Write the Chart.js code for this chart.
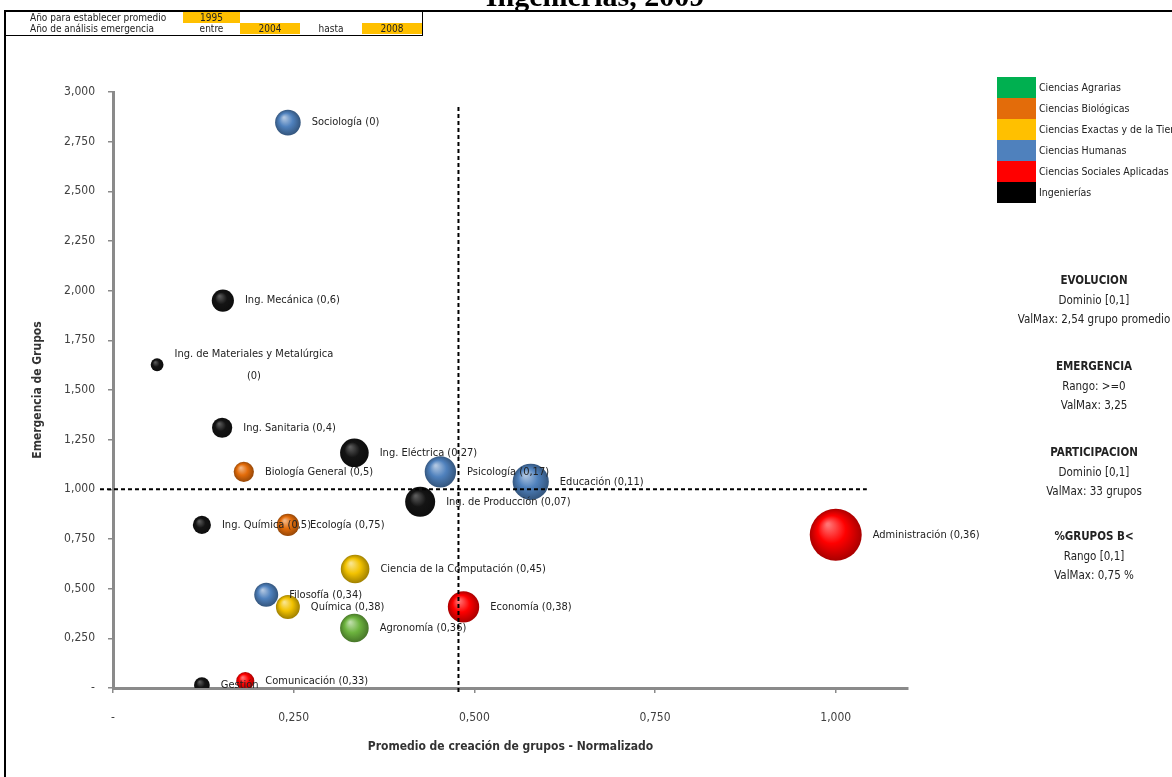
<!DOCTYPE html>
<html lang="es">
<head>
<meta charset="utf-8">
<title>Emergencia de grupos - Ingenierías, 2009</title>
<script src="https://cdn.jsdelivr.net/npm/chart.js@4.4.1/dist/chart.umd.min.js"></script>
<style>
  body { margin: 0; background: #fff; }
  #wrap { position: relative; width: 1172px; height: 777px; overflow: hidden; background: #fff;
          font-family: "Liberation Sans Narrow", "DejaVu Sans Condensed", "Liberation Sans", sans-serif; color: #222; }
  #chart { position: absolute; left: 0; top: 0; }
  #frame { position: absolute; left: 4px; top: 10px; width: 1300px; height: 900px;
           border-left: 2px solid #000; border-top: 2px solid #000; }
  #title { position: absolute; left: 0; top: -19px; width: 1190px; text-align: center; white-space: nowrap;
           font: bold 30px "Liberation Serif", "DejaVu Serif", serif; line-height: 30px; color: #000; }
  .cell { position: absolute; height: 11px; line-height: 11px; font-size: 10px; white-space: nowrap; }
  .gold { background: #ffc000; text-align: center; }
  .mid { text-align: center; }
  .rule { position: absolute; background: #000; }
  #legend { position: absolute; left: 997px; top: 77px; }
  #legend div { height: 21px; line-height: 21px; font-size: 10.5px; white-space: nowrap; }
  #legend span { display: inline-block; width: 39px; height: 21px; vertical-align: top; margin-right: 3px; }
  .info { position: absolute; left: 1013px; width: 162px; text-align: center; font-size: 11.5px; line-height: 19.5px; }
</style>
</head>
<body>
<div id="wrap">
  <canvas id="chart" width="1172" height="777"></canvas>
  <div id="title">Ingenierías, 2009</div>
  <div id="frame"></div>

  <!-- little parameter table, top left -->
  <div class="cell" style="left:30px; top:12px;">Año para establecer promedio</div>
  <div class="cell gold" style="left:183px; top:12px; width:57px;">1995</div>
  <div class="cell" style="left:30px; top:23px;">Año de análisis emergencia</div>
  <div class="cell mid" style="left:183px; top:23px; width:57px;">entre</div>
  <div class="cell gold" style="left:240px; top:23px; width:60px;">2004</div>
  <div class="cell mid" style="left:300px; top:23px; width:62px;">hasta</div>
  <div class="cell gold" style="left:362px; top:23px; width:60px;">2008</div>
  <div class="rule" style="left:422px; top:10px; width:1px; height:25px;"></div>
  <div class="rule" style="left:4px; top:35px; width:419px; height:1px;"></div>

  <div id="legend"></div>

  <div class="info" style="top:271px;"><b>EVOLUCION</b><br>Dominio [0,1]<br>ValMax: 2,54 grupo promedio</div>
  <div class="info" style="top:357px;"><b>EMERGENCIA</b><br>Rango: &gt;=0<br>ValMax: 3,25</div>
  <div class="info" style="top:443px;"><b>PARTICIPACION</b><br>Dominio [0,1]<br>ValMax: 33 grupos</div>
  <div class="info" style="top:527px;"><b>%GRUPOS B&lt;</b><br>Rango [0,1]<br>ValMax: 0,75 %</div>
</div>

<script>
// areas of knowledge (one series each)
const areaNames = ['Ciencias Agrarias', 'Ciencias Biológicas', 'Ciencias Exactas y de la Tierra',
    'Ciencias Humanas', 'Ciencias Sociales Aplicadas', 'Ingenierías'];

// careers, one bubble each
const careers = ['Sociología', 'Ing. Mecánica', 'Ing. de Materiales y Metalúrgica', 'Ing. Sanitaria',
    'Ing. Eléctrica', 'Biología General', 'Psicología', 'Educación', 'Ing. de Producción', 'Ing. Química',
    'Ecología', 'Ciencia de la Computación', 'Filosofía', 'Química', 'Agronomía', 'Economía',
    'Administración', 'Gestión', 'Comunicación'];
// index into areaNames
const careerArea = [3, 5, 5, 5, 5, 1, 3, 3, 5, 5, 1, 2, 3, 2, 0, 4, 4, 5, 4];
// x: promedio de creación de grupos (normalizado)
const promedio = [0.242, 0.152, 0.061, 0.151, 0.334, 0.181, 0.453, 0.578, 0.425, 0.123,
    0.242, 0.335, 0.212, 0.242, 0.334, 0.485, 1.0, 0.123, 0.183];
// y: emergencia de grupos
const emergencia = [2.846, 1.950, 1.627, 1.310, 1.184, 1.088, 1.088, 1.038, 0.937, 0.821,
    0.821, 0.599, 0.469, 0.408, 0.302, 0.408, 0.771, 0.015, 0.035];
// bubble size: participacion (grupos)
const participacion = [8, 6, 2, 5, 10, 5, 12, 16, 11, 4, 6, 10, 7, 7, 10, 12, 33, 3, 4];
// value shown in brackets: %grupos B<
const gruposB = [0, 0.6, 0, 0.4, 0.27, 0.5, 0.17, 0.11, 0.07, 0.5, 0.75, 0.45, 0.34, 0.38, 0.36,
    0.38, 0.36, null, 0.33];

// dashed reference lines (averages)
const mediaPromedio = 0.478;
const mediaEmergencia = 1;
const lineaHorizX = [-0.018, 1.043];
const lineaVertY = [-0.02, 2.94];

// axis ticks
const xTicks = [0, 0.25, 0.5, 0.75, 1];
const yTicks = [0, 0.25, 0.5, 0.75, 1, 1.25, 1.5, 1.75, 2, 2.25, 2.5, 2.75, 3];

// styles
const FONT = '"Liberation Sans Narrow", "DejaVu Sans Condensed", "Liberation Sans", sans-serif';
const legendColors = ['#00b050', '#e36c0a', '#ffc000', '#4f81bd', '#ff0000', '#000000'];
const bubbleColors = ['#6cb33e', '#e36c0a', '#f2c200', '#4f81bd', '#ff0000', '#141414'];
const bubbleShine = [0.55, 0.5, 0.55, 0.55, 0.45, 0.3];
const maxRadius = 26;

// legend on the right
const legendBox = document.getElementById('legend');
areaNames.forEach((name, i) => {
    const row = document.createElement('div');
    row.innerHTML = `<span style="background:${legendColors[i]}"></span>${name}`;
    legendBox.appendChild(row);
});

function comma(v, d) {
    return d === undefined ? String(v).replace('.', ',') : v.toFixed(d).replace('.', ',');
}

// mix a hex colour towards white (up=true) or black
function mix(hex, up, t) {
    const n = parseInt(hex.slice(1), 16);
    const target = up ? 255 : 0;
    const c = [(n >> 16) & 255, (n >> 8) & 255, n & 255].map(v => Math.round(v + (target - v) * t));
    return `rgb(${c[0]},${c[1]},${c[2]})`;
}

// 3d looking fill for the bubbles
function bubbleFill(context) {
    const chart = context.chart;
    const ds = context.dataset;
    if (context.type !== 'data' || !chart.chartArea) return ds.baseColor;
    const p = context.raw;
    const x = chart.scales.x.getPixelForValue(p.x);
    const y = chart.scales.y.getPixelForValue(p.y);
    const r = p.r;
    const g = chart.ctx.createRadialGradient(x - r * 0.3, y - r * 0.4, r * 0.05, x, y, r * 1.02);
    g.addColorStop(0, mix(ds.baseColor, true, ds.shine));
    g.addColorStop(0.5, ds.baseColor);
    g.addColorStop(1, mix(ds.baseColor, false, 0.35));
    return g;
}

// one bubble dataset per area
const bubbleSets = areaNames.map((name, a) => {
    const data = [];
    const labels = [];
    careers.forEach((c, i) => {
        if (careerArea[i] !== a) return;
        data.push({ x: promedio[i], y: emergencia[i], r: maxRadius * Math.sqrt(participacion[i] / 33) });
        if (gruposB[i] === null) labels.push([c]);
        else if (c.length > 28) labels.push([c, '(' + comma(gruposB[i]) + ')']);
        else labels.push([c + ' (' + comma(gruposB[i]) + ')']);
    });
    return {
        label: name,
        data: data,
        labels: labels,
        baseColor: bubbleColors[a],
        shine: bubbleShine[a],
        backgroundColor: bubbleFill,
        borderWidth: 0,
        clip: 0
    };
});

const lineStyle = { type: 'line', borderColor: '#000', borderWidth: 2, borderDash: [4, 3],
    pointRadius: 0, fill: false, clip: false, order: -1 };

const lineH = Object.assign({ label: 'media emergencia',
    data: lineaHorizX.map(x => ({ x: x, y: mediaEmergencia })) }, lineStyle);
const lineV = Object.assign({ label: 'media promedio',
    data: lineaVertY.map(y => ({ x: mediaPromedio, y: y })) }, lineStyle);

// labels to the right of each bubble
const bubbleLabels = {
    id: 'bubbleLabels',
    afterDatasetsDraw(chart) {
        const c = chart.ctx;
        c.save();
        c.font = '11px ' + FONT;
        c.fillStyle = '#222';
        c.textBaseline = 'middle';
        c.textAlign = 'center';
        chart.data.datasets.forEach((ds, i) => {
            if (!ds.labels) return;
            chart.getDatasetMeta(i).data.forEach((el, j) => {
                const lines = ds.labels[j];
                const left = el.x + ds.data[j].r + 11;
                const w = Math.max(...lines.map(l => c.measureText(l).width));
                lines.forEach((l, k) => {
                    c.fillText(l, left + w / 2, el.y + (k - (lines.length - 1) / 2) * 22);
                });
            });
        });
        c.restore();
    }
};

const axisGray = '#8a8a8a';

new Chart(document.getElementById('chart'), {
    type: 'bubble',
    data: { datasets: [lineH, lineV].concat(bubbleSets) },
    options: {
        responsive: false,
        animation: false,
        layout: { padding: { left: 0, top: 92, right: 264, bottom: 0 } },
        plugins: { legend: { display: false }, tooltip: { enabled: false } },
        scales: {
            x: {
                type: 'linear', min: 0, max: 1.1,
                afterBuildTicks: s => { s.ticks = xTicks.map(v => ({ value: v })); },
                afterFit: s => { s.height = 89; },
                ticks: { autoSkip: false, padding: 18, color: '#404040', font: { family: FONT, size: 12 },
                    callback: v => v === 0 ? '-' : comma(v, 3) },
                grid: { drawOnChartArea: false, drawTicks: true, tickLength: 5, color: axisGray, lineWidth: 1.5 },
                border: { color: axisGray, width: 3 },
                title: { display: true, text: 'Promedio de creación de grupos - Normalizado', color: '#333',
                    font: { family: FONT, size: 12, weight: 'bold' }, padding: { top: 0, bottom: 23 } }
            },
            y: {
                type: 'linear', min: 0, max: 3,
                afterBuildTicks: s => { s.ticks = yTicks.map(v => ({ value: v })); },
                afterFit: s => { s.width = 113; },
                ticks: { autoSkip: false, padding: 13, color: '#404040', font: { family: FONT, size: 12 },
                    callback: v => v === 0 ? '-' : comma(v, 3) },
                grid: { drawOnChartArea: false, drawTicks: true, tickLength: 5, color: axisGray, lineWidth: 1.5 },
                border: { color: axisGray, width: 3 },
                title: { display: true, text: 'Emergencia de Grupos', color: '#333',
                    font: { family: FONT, size: 12, weight: 'bold' }, padding: { top: 31, bottom: 0 } }
            }
        }
    },
    plugins: [bubbleLabels]
});
</script>
</body>
</html>
